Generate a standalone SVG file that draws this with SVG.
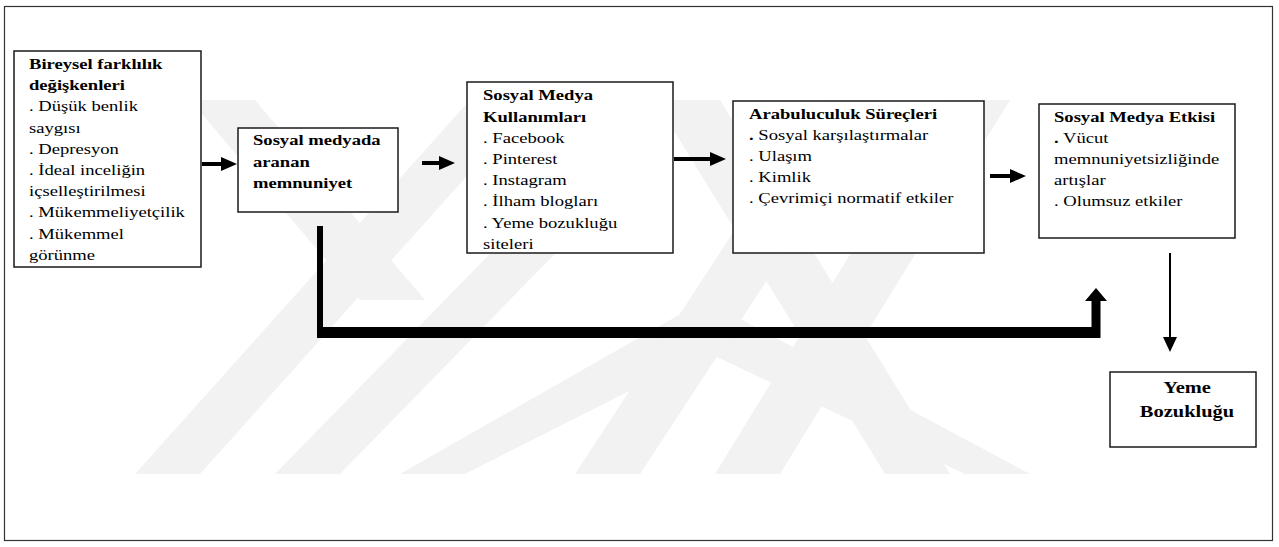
<svg xmlns="http://www.w3.org/2000/svg" width="1279" height="547" viewBox="0 0 1279 547" font-family="Liberation Serif, serif">
<style>
.box{fill:#fff;stroke:#1a1a1a;stroke-width:1.5}
.t{font-size:15.5px;fill:#000}
.b{font-weight:bold}
.big{font-size:16.5px}
.wm{fill:#f2f2f2}
.arr{stroke:#000;stroke-width:4;fill:none}
</style>
<defs>
<marker id="ah" viewBox="0 0 16 14" markerWidth="16" markerHeight="14" refX="0" refY="7" orient="auto" markerUnits="userSpaceOnUse">
<path d="M0,0 L16,7 L0,14 Z" fill="#000"/>
</marker>
</defs>
<rect x="0" y="0" width="1279" height="547" fill="#fff"/>
<g id="watermark">
<polygon class="wm" points="190,100 255,100 425,300 360,300"/>
<polygon class="wm" points="470,100 535,100 200,474 135,474"/>
<polygon class="wm" points="640,100 705,100 340,474 275,474"/>
<polygon class="wm" points="705,300 740,335 465,474 400,474"/>
<polygon class="wm" points="705,300 670,335 965,474 1030,474"/>
<polygon class="wm" points="655,100 720,100 950,474 885,474"/>
<polygon class="wm" points="820,100 885,100 640,474 575,474"/>
<polygon class="wm" points="945,100 1010,100 780,474 715,474"/>
</g>
<rect id="frame" x="4.5" y="6.5" width="1268" height="534" fill="none" stroke="#333" stroke-width="1.2"/>
<g id="connectors">
<line class="arr" x1="202" y1="164" x2="221" y2="164" marker-end="url(#ah)"/>
<line class="arr" x1="422" y1="163" x2="439" y2="163" marker-end="url(#ah)"/>
<line class="arr" x1="674" y1="159" x2="710" y2="159" marker-end="url(#ah)"/>
<line class="arr" x1="990" y1="176" x2="1010" y2="176" marker-end="url(#ah)"/>
<polygon points="317,226 323,226 323,327 1091.5,327 1091.5,301 1085,301 1096,288 1107,301 1100.5,301 1100.5,338 317,338" fill="#000"/>
<line x1="1170" y1="253" x2="1170" y2="338" stroke="#000" stroke-width="2"/>
<polygon points="1163,337 1177,337 1170,352" fill="#000"/>
</g>
<g id="n1">
<rect class="box" x="14" y="51" width="187" height="216"/>
<g transform="translate(29 0) scale(1.2 1)" font-family="Liberation Serif, serif">
<text class="t b" x="0" y="69">Bireysel farklılık</text>
<text class="t b" x="0" y="90.2">değişkenleri</text>
<text class="t" x="0" y="111.4">. Düşük benlik</text>
<text class="t" x="0" y="132.6">saygısı</text>
<text class="t" x="0" y="153.8">. Depresyon</text>
<text class="t" x="0" y="175">. İdeal inceliğin</text>
<text class="t" x="0" y="196.2">içselleştirilmesi</text>
<text class="t" x="0" y="217.4">. Mükemmeliyetçilik</text>
<text class="t" x="0" y="238.6">. Mükemmel</text>
<text class="t" x="0" y="259.8">görünme</text>
</g>
</g>
<g id="n2">
<rect class="box" x="238" y="128" width="160" height="84"/>
<g transform="translate(253 0) scale(1.2 1)" font-family="Liberation Serif, serif">
<text class="t b" x="0" y="145.5">Sosyal medyada</text>
<text class="t b" x="0" y="167">aranan</text>
<text class="t b" x="0" y="188.5">memnuniyet</text>
</g>
</g>
<g id="n3">
<rect class="box" x="467" y="82" width="206" height="171"/>
<g transform="translate(483 0) scale(1.2 1)" font-family="Liberation Serif, serif">
<text class="t b" x="0" y="100.5">Sosyal Medya</text>
<text class="t b" x="0" y="121.7">Kullanımları</text>
<text class="t" x="0" y="142.9">. Facebook</text>
<text class="t" x="0" y="164.1">. Pinterest</text>
<text class="t" x="0" y="185.3">. Instagram</text>
<text class="t" x="0" y="206.5">. İlham blogları</text>
<text class="t" x="0" y="227.7">. Yeme bozukluğu</text>
<text class="t" x="0" y="248.9">siteleri</text>
</g>
</g>
<g id="n4">
<rect class="box" x="733" y="101" width="251" height="152"/>
<g transform="translate(749 0) scale(1.2 1)" font-family="Liberation Serif, serif">
<text class="t b" x="0" y="119">Arabuluculuk Süreçleri</text>
<text class="t" x="0" y="140.5"><tspan class="b">.</tspan> Sosyal karşılaştırmalar</text>
<text class="t" x="0" y="161.5">. Ulaşım</text>
<text class="t" x="0" y="182.5">. Kimlik</text>
<text class="t" x="0" y="203.5">. Çevrimiçi normatif etkiler</text>
</g>
</g>
<g id="n5">
<rect class="box" x="1039" y="104" width="196" height="134"/>
<g transform="translate(1054 0) scale(1.2 1)" font-family="Liberation Serif, serif">
<text class="t b" x="0" y="122.5">Sosyal Medya Etkisi</text>
<text class="t" x="0" y="143.5"><tspan class="b">.</tspan> Vücut</text>
<text class="t" x="0" y="164.5">memnuniyetsizliğinde</text>
<text class="t" x="0" y="185.5">artışlar</text>
<text class="t" x="0" y="206.5">. Olumsuz etkiler</text>
</g>
</g>
<g id="n6">
<rect class="box" x="1110" y="372" width="146" height="75"/>
<g transform="translate(1187 0) scale(1.24 1)" font-family="Liberation Serif, serif">
<text class="t b big" x="0" y="393" text-anchor="middle">Yeme</text>
<text class="t b big" x="0" y="417" text-anchor="middle">Bozukluğu</text>
</g>
</g>
</svg>
